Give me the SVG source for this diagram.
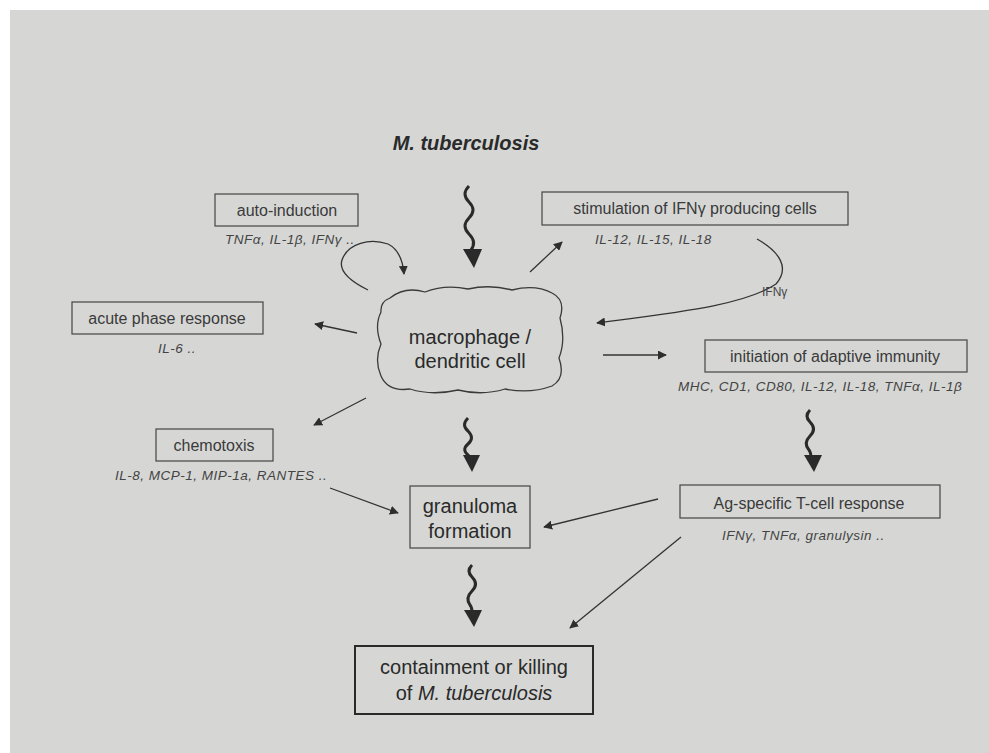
<svg xmlns="http://www.w3.org/2000/svg" width="989" height="753" viewBox="0 0 989 753">
<defs>
<marker id="ah" viewBox="0 0 10 10" refX="9" refY="5" markerWidth="9" markerHeight="9" markerUnits="userSpaceOnUse" orient="auto">
<path d="M0,0 L10,5 L0,10 Z" fill="#2e2e2e"/>
</marker>
<style>
.box{fill:none;stroke:#444;stroke-width:1.2}
.bbox{fill:none;stroke:#2a2a2a;stroke-width:2}
.lbl{font-family:"Liberation Sans",Arial,sans-serif;font-size:16px;fill:#3a3a3a;text-anchor:middle}
.big{font-family:"Liberation Sans",Arial,sans-serif;font-size:20px;fill:#2a2a2a;text-anchor:middle}
.sub{font-family:"Liberation Sans",Arial,sans-serif;font-size:13.5px;font-style:italic;fill:#444;letter-spacing:0.5px}
.ln{fill:none;stroke:#333;stroke-width:1.3;marker-end:url(#ah)}
.wv{fill:none;stroke:#2a2a2a;stroke-width:3}
.hd{fill:#2a2a2a}
</style>
</defs>
<rect x="0" y="0" width="989" height="753" fill="#ffffff"/>
<rect x="10" y="10" width="979" height="743" fill="#d6d7d5"/>

<g id="mtb">
<text x="466" y="150" font-family="'Liberation Sans',Arial,sans-serif" font-size="20" font-weight="bold" font-style="italic" fill="#2a2a2a" text-anchor="middle">M. tuberculosis</text>
</g>

<g id="auto-induction">
<rect class="box" x="215" y="194" width="143" height="32"/>
<text class="lbl" x="287" y="216">auto-induction</text>
<text class="sub" x="225" y="244">TNFα, IL-1β, IFNγ ..</text>
</g>

<g id="stimulation">
<rect class="box" x="542" y="192" width="306" height="33"/>
<text class="lbl" x="695" y="214" font-size="17">stimulation of IFNγ producing cells</text>
<text class="sub" x="595" y="244">IL-12, IL-15, IL-18</text>
</g>

<g id="acute-phase">
<rect class="box" x="72" y="302" width="191" height="32"/>
<text class="lbl" x="167" y="324">acute phase response</text>
<text class="sub" x="158" y="353">IL-6 ..</text>
</g>

<g id="macrophage">
<path d="M390,298 Q405,286 425,292 Q445,284 468,289 Q490,284 512,290 Q535,284 552,293 Q566,300 560,318 Q566,340 559,358 Q566,378 552,386 Q530,394 505,389 Q482,396 458,390 Q432,396 410,389 Q388,392 381,376 Q374,360 381,344 Q374,326 381,312 Q380,302 390,298 Z" fill="none" stroke="#3a3a3a" stroke-width="1.3"/>
<text class="big" x="470" y="344" font-size="21">macrophage /</text>
<text class="big" x="470" y="368" font-size="21">dendritic cell</text>
</g>

<g id="initiation">
<rect class="box" x="705" y="340" width="262" height="32"/>
<text class="lbl" x="835" y="362" font-size="17.5">initiation of adaptive immunity</text>
<text class="sub" x="678" y="391" font-size="14" letter-spacing="0.9">MHC, CD1, CD80, IL-12, IL-18, TNFα, IL-1β</text>
</g>

<g id="chemotoxis">
<rect class="box" x="156" y="429" width="117" height="32"/>
<text class="lbl" x="214" y="451" font-size="15">chemotoxis</text>
<text class="sub" x="115" y="480">IL-8, MCP-1, MIP-1a, RANTES ..</text>
</g>

<g id="granuloma">
<rect class="box" x="410" y="486" width="120" height="62"/>
<text class="big" x="470" y="513">granuloma</text>
<text class="big" x="470" y="538">formation</text>
</g>

<g id="ag-specific">
<rect class="box" x="680" y="485" width="260" height="33"/>
<text class="lbl" x="809" y="509" font-size="19">Ag-specific T-cell response</text>
<text class="sub" x="722" y="540" font-size="14">IFNγ, TNFα, granulysin ..</text>
</g>

<g id="containment">
<rect class="bbox" x="355" y="646" width="238" height="68"/>
<text class="big" x="474" y="674">containment or killing</text>
<text class="big" x="474" y="700">of <tspan font-style="italic">M. tuberculosis</tspan></text>
</g>

<g id="connectors">
<path class="wv" d="M469,186 q-8,8 0,16 q8,8 0,16 q-8,8 0,16 q8,8 2,16"/>
<path class="hd" d="M463,249 L482,249 L474,268 Z"/>
<path class="wv" d="M468,418 q-7,7 0,13 q7,7 0,13 q-7,6 1,12"/>
<path class="hd" d="M463,455 L480,455 L472,472 Z"/>
<path class="wv" d="M810,410 q-6,6 0,12 q7,7 0,14 q-7,7 -1,14 q3,4 1,10"/>
<path class="hd" d="M804,455 L822,455 L814,472 Z"/>
<path class="wv" d="M472,565 q-6,6 0,12 q7,7 0,14 q-7,7 -2,14 q3,4 1,8"/>
<path class="hd" d="M464,610 L482,610 L474,627 Z"/>
<path class="ln" d="M530,272 L562,242"/>
<path class="ln" d="M357,333 L315,324"/>
<path class="ln" d="M603,355 L666,355"/>
<path class="ln" d="M366,398 L314,425"/>
<path class="ln" d="M330,488 L398,513"/>
<path class="ln" d="M658,499 L544,527"/>
<path class="ln" d="M681,537 L570,628"/>
<path class="ln" d="M368,290 C352,282 338,272 342,260 C348,243 370,238 388,244 C400,250 403,262 404,274"/>
<path class="ln" d="M757,239 C780,252 790,268 776,284 C745,305 680,312 597,323"/>
<text x="762" y="296" font-family="'Liberation Sans',Arial,sans-serif" font-size="12" fill="#444">IFNγ</text>
</g>
</svg>
